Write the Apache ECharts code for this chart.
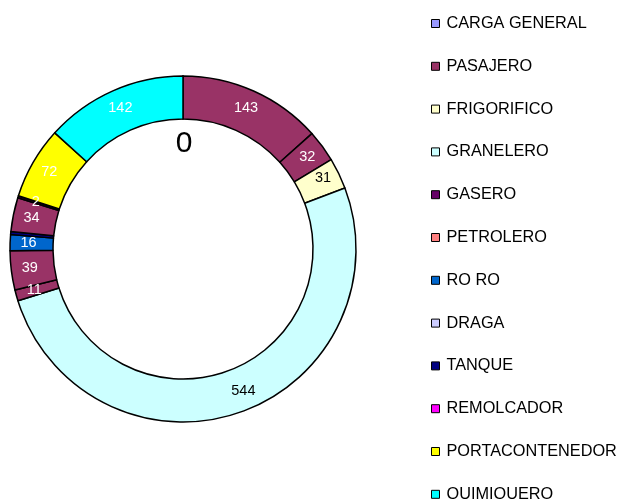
<!DOCTYPE html>
<html>
<head>
<meta charset="utf-8">
<script src="https://cdn.jsdelivr.net/npm/echarts@6/dist/echarts.min.js"></script>
<style>
html,body{margin:0;padding:0;background:#fff;}
#chart{width:621px;height:499px;}
</style>
</head>
<body>
<div id="chart"></div>
<script>
// Ring order, clockwise from 12 o'clock
const categories = ['CARGA GENERAL','PASAJERO','OTROS','FRIGORIFICO','GRANELERO','GASERO','PETROLERO','RO RO','DRAGA','TANQUE','REMOLCADOR','PORTACONTENEDOR','QUIMIQUERO'];
const values = [0,143,32,31,544,11,39,16,3,34,2,72,142];
const legendNames = ['CARGA GENERAL','PASAJERO','FRIGORIFICO','GRANELERO','GASERO','PETROLERO','RO RO','DRAGA','TANQUE','REMOLCADOR','PORTACONTENEDOR','QUIMIQUERO'];

// styles
const sliceColors = ['#9999FF','#993366','#993366','#FFFFCC','#CCFFFF','#993366','#993366','#0066CC','#000080','#993366','#330033','#FFFF00','#00FFFF'];
const legendColors = ['#9999FF','#993366','#FFFFCC','#CCFFFF','#660066','#FF8080','#0066CC','#CCCCFF','#000080','#FF00FF','#FFFF00','#00FFFF'];
const labelStyles = {
  'CARGA GENERAL': { color: '#000', fontSize: 30, offset: [1, 49] },
  'FRIGORIFICO': { color: '#000', offset: [1, -4] },
  'GRANELERO': { color: '#000', offset: [10, -4] }
};

const chart = echarts.init(document.getElementById('chart'));
const data = categories.map((name, i) => {
  const item = { name: name, value: values[i], itemStyle: { color: sliceColors[i] } };
  if (labelStyles[name]) item.label = labelStyles[name];
  return item;
});

const legendRowStep = 42.8;
const legendTop = 15.5;
const legendBase = {
  orient: 'vertical',
  left: 431,
  padding: 0,
  itemWidth: 8,
  itemHeight: 8,
  itemGap: 26.8,
  icon: 'rect',
  selectedMode: false,
  textStyle: { fontFamily: 'Liberation Sans, Arial, sans-serif', fontSize: 16.3, color: '#000', padding: [0,0,0,2] }
};
const legendItems = legendNames.map((n, i) => ({ name: n, itemStyle: { color: legendColors[i], borderColor: '#000', borderWidth: 1 } }));
const splitAt = 11;

chart.setOption({
  animation: false,
  backgroundColor: '#fff',
  legend: [
    Object.assign({}, legendBase, { top: legendTop, data: legendItems.slice(0, splitAt) }),
    Object.assign({}, legendBase, { top: legendTop + splitAt * legendRowStep, data: legendItems.slice(splitAt) })
  ],
  series: [{
    type: 'pie',
    center: [183, 249],
    radius: [130, 173],
    startAngle: 90,
    clockwise: true,
    avoidLabelOverlap: false,
    minShowLabelAngle: 0,
    itemStyle: { borderColor: '#000', borderWidth: 1.5 },
    label: {
      show: true,
      position: 'inside',
      formatter: '{c}',
      color: '#fff',
      fontFamily: 'Liberation Sans, Arial, sans-serif',
      fontSize: 14.5,
      textBorderWidth: 0
    },
    labelLine: { show: false },
    emphasis: { disabled: true },
    data: data
  }]
});
</script>
</body>
</html>
